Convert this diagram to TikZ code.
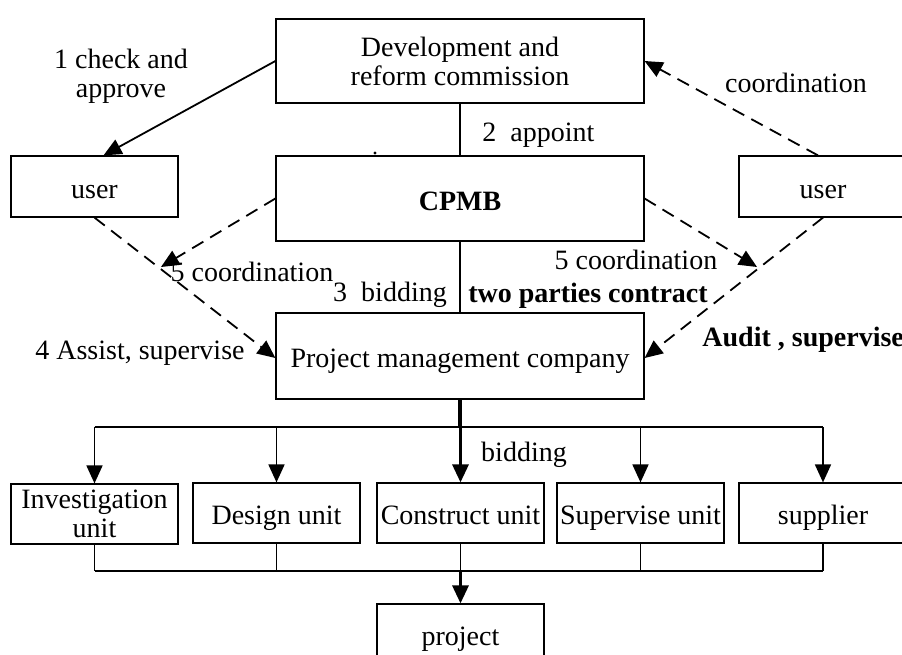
\documentclass[tikz,border=0pt]{standalone}
\usepackage{fontspec}
\setmainfont{Liberation Serif}
\usetikzlibrary{arrows.meta,calc}

\begin{document}
\begin{tikzpicture}[x=0.5pt,y=-0.5pt,
  font=\fontsize{14pt}{14.5pt}\selectfont,
  box/.style={draw,line width=0.6pt,inner sep=0pt,align=center,
    text height=12.5pt,text depth=1pt},
  box2/.style={draw,line width=0.6pt,inner sep=0pt,align=center},
  lbl/.style={inner sep=0pt,text height=12.5pt,text depth=1pt},
  conn/.style={line width=0.9pt},
  dsh/.style={line width=0.9pt,dash pattern=on 6.5pt off 4pt},
  tip/.style={-{Triangle[length=9pt,width=8pt]}},
  heavy/.style={line width=1.6pt},
  bus/.style={line width=1.1pt}]

\clip (0,0) rectangle (902,655);

% upper boxes
\node[box2,minimum width=184pt,minimum height=42pt] (dev) at (460,61)
  {Development and\\reform commission};
\node[box,minimum width=83.5pt,minimum height=30.5pt] (userL) at (94.5,186.5) {user};
\node[box,minimum width=184pt,minimum height=42.5pt,font=\fontsize{14pt}{14.5pt}\selectfont\bfseries]
  (cpmb) at (460,198.5) {CPMB};
\node[box,minimum width=84pt,minimum height=30.5pt] (userR) at (823,186.5) {user};
\node[box,minimum width=184pt,minimum height=43pt] (pmc) at (460,356)
  {Project management company};

% participating units
\node[box2,minimum width=83.5pt,minimum height=30pt] (inv) at (94.5,514)
  {Investigation\\unit};
\node[box,minimum width=83.5pt,minimum height=30pt] (des) at (276.5,513) {Design unit};
\node[box,minimum width=83.5pt,minimum height=30pt] (con) at (460.5,513) {Construct unit};
\node[box,minimum width=83.5pt,minimum height=30pt] (sup) at (640.5,513) {Supervise unit};
\node[box,minimum width=84pt,minimum height=30pt] (spl) at (823,513) {supplier};
\node[box,minimum width=83.5pt,minimum height=30pt] (proj) at (460.5,634) {project};

% helper points
\coordinate (topbus) at (0,427);
\coordinate (botbus) at (0,571);
\coordinate (cL) at (161,267);
\coordinate (cR) at (757,267);

% vertical chain through the CPMB
\draw[conn] (dev.south) -- (cpmb.north);
\draw[conn] (cpmb.south) -- (pmc.north);

% approval and coordination links
\draw[conn,tip] (dev.west) -- ([xshift=4.5pt]userL.north);
\draw[dsh,tip] (userR.north) ++(-2.5pt,0) -- (dev.east);
\draw[dsh,tip] (userL.south) -- ([yshift=-1pt]pmc.west);
\draw[dsh,tip] (userR.south) -- ([yshift=-1pt]pmc.east);
\draw[dsh,tip] (cpmb.west) -- (cL);
\draw[dsh,tip] (cpmb.east) -- (cR);

% bidding bus to the units
\draw[heavy] (pmc.south) -- (pmc.south |- topbus);
\draw[bus] (inv.north |- topbus) -- (spl.north |- topbus);
\foreach \u in {inv,des,sup,spl}
  \draw[conn,tip] (\u.north |- topbus) -- (\u.north);
\draw[heavy,tip] (con.north |- topbus) -- (con.north);

% units to the project
\foreach \u in {inv,des,con,sup,spl}
  \draw[conn] (\u.south) -- (\u.south |- botbus);
\draw[bus] (inv.south |- botbus) -- (spl.south |- botbus);
\draw[heavy,tip] (con.south |- botbus) -- (proj.north);

% stray mark
\fill (375,153) circle (0.8pt);

% labels
\node[align=center,inner sep=0pt] (l1) at (121,76) {1 check and\\approve};
\node[lbl,anchor=west] (l2) at (482,130) {2\ \ appoint};
\node[lbl] (lc) at (796,81) {coordination};
\node[lbl] (l5a) at (252,270) {5 coordination};
\node[lbl] (l3) at (390,290) {3\ \ bidding};
\node[lbl] (l5b) at (636,258) {5 coordination};
\node[lbl,font=\fontsize{14pt}{14.5pt}\selectfont\bfseries] (ltp) at (588,291) {two parties contract};
\node[lbl,anchor=west,font=\fontsize{14pt}{14.5pt}\selectfont\bfseries] (lau) at (702,335) {Audit , supervise};
\node[lbl] (l4) at (140,348) {4 Assist, supervise};
\node[lbl] (lb) at (524,450) {bidding};

\end{tikzpicture}
\end{document}
